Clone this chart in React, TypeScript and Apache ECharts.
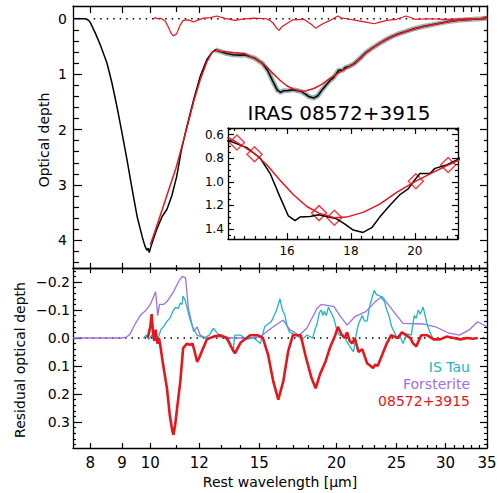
import React, { useEffect, useRef } from 'react';
import * as echarts from 'echarts';

// ---------- tick values ----------
const xMajorTicks = [8, 9, 10, 12, 15, 20, 25, 30, 35];
const xMinorTicks = [11, 13, 14, 16, 17, 18, 19, 21, 22, 23, 24, 26, 27, 28, 29, 31, 32, 33, 34];
const topYMajor = [0, 1, 2, 3, 4];
const topYMinor = [0.2, 0.4, 0.6, 0.8, 1.2, 1.4, 1.6, 1.8, 2.2, 2.4, 2.6, 2.8, 3.2, 3.4, 3.6, 3.8, 4.2, 4.4];
const resYMajor = [-0.2, -0.1, 0, 0.1, 0.2, 0.3];
const resYMinor = [-0.24, -0.22, -0.18, -0.16, -0.14, -0.12, -0.08, -0.06, -0.04, -0.02, 0.02, 0.04, 0.06, 0.08,
  0.12, 0.14, 0.16, 0.18, 0.22, 0.24, 0.26, 0.28, 0.32, 0.34, 0.36, 0.38];
const insetXMajor = [16, 18, 20];
const insetXMinor = [14.33, 14.67, 15, 15.33, 15.67, 16.33, 16.67, 17, 17.33, 17.67, 18.33, 18.67, 19, 19.33, 19.67,
  20.33, 20.67, 21, 21.33];
const insetYMajor = [0.6, 0.8, 1.0, 1.2, 1.4];
const insetYMinor = [0.55, 0.65, 0.7, 0.75, 0.85, 0.9, 0.95, 1.05, 1.1, 1.15, 1.25, 1.3, 1.35, 1.45];

// ---------- observed optical depth (black) ----------
const obsWl = [7.5, 7.8, 7.88, 7.95, 8.0, 8.15, 8.3, 8.51, 8.67, 8.83, 9.0, 9.17, 9.35, 9.52, 9.7, 9.8, 9.87, 9.92,
  9.96, 10.0, 10.1, 10.26, 10.45, 10.64, 10.83, 11.03, 11.23, 11.46, 11.75, 12.04, 12.34, 12.55, 12.73, 12.97, 13.3,
  13.6, 14.0, 14.17, 14.45, 14.74, 15.16, 15.47, 15.78, 16.04, 16.25, 16.4, 16.72, 16.98, 17.24, 17.55, 17.81, 18.07,
  18.38, 18.65, 18.9, 19.22, 19.53, 19.79, 19.95, 20.16, 20.47, 20.63, 20.99, 21.35, 21.8, 22.3, 22.9, 23.5, 24.1,
  24.6, 25.2, 25.9, 26.7, 27.6, 28.5, 29.4, 30.3, 31.2, 32.2, 33.2, 34.2, 35];
const obsTau = [0, 0, 0.005, 0.03, 0.07, 0.26, 0.47, 0.8, 1.16, 1.58, 2.06, 2.55, 3.09, 3.57, 3.93, 4.1, 4.18, 4.14,
  4.22, 4.15, 4.0, 3.78, 3.57, 3.44, 3.2, 2.85, 2.36, 1.94, 1.46, 1.04, 0.74, 0.62, 0.56, 0.59, 0.63,
  0.65, 0.66, 0.65, 0.68, 0.71, 0.8, 0.93, 1.13, 1.29, 1.33, 1.3, 1.295, 1.28, 1.295, 1.315, 1.36, 1.41,
  1.43, 1.39, 1.3, 1.2, 1.11, 1.06, 1.0, 0.93, 0.93, 0.886, 0.857, 0.81, 0.72, 0.61, 0.52, 0.44, 0.37,
  0.32, 0.27, 0.23, 0.18, 0.14, 0.11, 0.08, 0.05, 0.03, 0.02, 0.01, 0.0, -0.01];

// ---------- continuum / model fit (red) ----------
const modelWl = [10.0, 10.2, 10.45, 10.7, 11.0, 11.25, 11.5, 11.75, 12.04, 12.34, 12.6, 12.8, 13.0, 13.6, 14.17,
  14.43, 14.98, 15.37, 15.78, 16.2, 16.62, 17.0, 17.48, 17.86, 18.38, 18.9, 19.43, 20.03, 20.57, 21.04, 21.35,
  21.8, 22.3, 22.9, 23.5, 24.1, 24.6, 25.9, 27.6, 29.4, 31.2, 33.2, 35];
const modelTau = [4.08, 3.8, 3.45, 3.1, 2.7, 2.3, 1.9, 1.5, 1.1, 0.78, 0.6, 0.57, 0.585, 0.61, 0.628,
  0.666, 0.76, 0.857, 0.986, 1.11, 1.21, 1.266, 1.306, 1.3, 1.26, 1.19, 1.09, 0.995, 0.92, 0.857, 0.82,
  0.73, 0.62, 0.52, 0.44, 0.37, 0.32, 0.23, 0.14, 0.08, 0.03, 0.01, -0.01];

// ---------- anchor points (inset diamonds) ----------
const anchorWl = [14.43, 14.98, 17.0, 17.48, 20.03, 21.04];
const anchorTau = [0.666, 0.766, 1.266, 1.306, 0.995, 0.857];

// ---------- residual at top of upper panel (thin red) ----------
const resTopWl = [10.1, 10.18, 10.26, 10.38, 10.5, 10.58, 10.7, 10.8, 10.9, 11.03, 11.18, 11.3, 11.52, 11.75, 11.9,
  12.2, 12.5, 12.8, 13.15, 13.7, 14.0, 14.7, 15.4, 15.6, 15.8, 16.0, 16.15, 16.3, 16.6, 17.0, 17.7, 18.2, 18.5, 19.0,
  19.6, 20.1, 20.4, 20.8, 21.5, 22.3, 23.0, 23.5, 24.1, 25.0, 25.9, 26.8, 28.0, 30.1, 32.3, 34.2, 35];
const resTopTau = [0.01, -0.02, 0.0, -0.01, 0.02, 0.05, 0.16, 0.26, 0.31, 0.27, 0.11, 0.03, 0.02, 0.06, 0.03,
  -0.01, -0.02, -0.05, -0.01, 0.03, 0.01, -0.01, 0.0, 0.03, 0.08, 0.17, 0.21, 0.15, 0.09, 0.02, 0.01, 0.1, 0.17, 0.09,
  0.02, -0.05, -0.01, 0.0, 0.03, 0.06, 0.09, 0.06, 0.03, 0.01, -0.05, 0.01, 0.0, 0.01, 0.0, 0.0, -0.05];

// ---------- lower panel: Forsterite (purple) ----------
const forstWl = [7.5, 9.0, 9.15, 9.28, 9.45, 9.63, 9.85, 10.0, 10.2, 10.28, 10.35, 10.5, 10.64, 10.9, 11.1, 11.26,
  11.4, 11.52, 11.75, 11.9, 12.04, 12.3, 12.9, 13.6, 14.5, 15.06, 15.8, 16.4, 16.8, 17.4, 17.9, 18.6, 18.9, 19.8,
  20.3, 20.8, 21.4, 22.3, 23.1, 23.7, 24.5, 25.6, 27.6, 28.9, 30.4, 31.6, 32.8, 33.8, 35];
const forstRes = [0, 0, -0.003, -0.015, -0.05, -0.08, -0.1, -0.12, -0.165, -0.08, -0.12, -0.12, -0.13, -0.165, -0.2,
  -0.22, -0.215, -0.107, -0.023, -0.04, -0.01, 0, -0.005, 0, 0, -0.005, -0.04, -0.064, -0.03, -0.01, -0.035, -0.106,
  -0.12, -0.112, -0.076, -0.046, -0.076, -0.094, -0.13, -0.148, -0.106, -0.052, -0.05, -0.04, -0.017, -0.01, -0.03,
  -0.058, -0.04];

// ---------- lower panel: IS Tau (teal) ----------
const isTauWl = [9.75, 9.85, 9.95, 10.05, 10.15, 10.3, 10.4, 10.5, 10.64, 10.75, 10.9, 11.0, 11.1, 11.18, 11.25, 11.3,
  11.38, 11.46, 11.58, 11.7, 11.9, 12.2, 12.45, 12.65, 12.8, 13.0, 13.2, 13.45, 13.6, 13.7, 14.0, 14.3, 14.7, 15.06,
  15.3, 15.5, 15.7, 15.85, 16.0, 16.2, 16.35, 16.5, 16.65, 16.8, 17.2, 17.6, 17.9, 18.3, 18.45, 18.6, 18.75, 18.9,
  19.0, 19.1, 19.25, 19.4, 19.6, 19.8, 20.0, 20.2, 20.5, 20.75, 21.0, 21.3, 21.5, 21.7, 22.0, 22.2, 22.4, 22.6, 22.8,
  23.0, 23.2, 23.5, 23.7, 23.9, 24.1, 24.3, 24.55, 24.8, 25.05, 25.3, 25.6, 25.8, 26.0, 26.4, 26.7, 26.9, 27.1, 27.3,
  27.6, 27.8, 28.0, 28.3, 28.6];
const isTauRes = [0, -0.01, 0.005, -0.01, 0.01, 0, -0.03, -0.04, -0.06, -0.07, -0.1, -0.11, -0.105, -0.125, -0.12,
  -0.15, -0.135, -0.11, -0.07, -0.04, -0.01, 0, -0.01, -0.035, -0.02, -0.005, 0, 0.02, 0.05, -0.01, -0.01, 0.005, 0,
  0.02, -0.04, -0.05, -0.06, -0.08, -0.1, -0.14, -0.1, -0.08, -0.04, -0.02, -0.01, 0.005, -0.01, 0, -0.03, -0.05,
  -0.09, -0.1, -0.08, -0.095, -0.08, -0.11, -0.09, -0.07, -0.03, -0.01, -0.01, 0.01, 0.03, 0.05, -0.01, -0.05, -0.08,
  -0.06, -0.06, -0.11, -0.14, -0.17, -0.155, -0.15, -0.14, -0.13, -0.1, -0.08, -0.04, -0.02, 0, -0.01, 0.02, 0,
  -0.015, -0.01, -0.08, -0.07, -0.1, -0.085, -0.11, -0.08, -0.05, -0.02, 0];

// ---------- lower panel: 08572+3915 (thick red) ----------
const iras08Wl = [9.9, 9.95, 10.0, 10.05, 10.1, 10.15, 10.2, 10.27, 10.33, 10.4, 10.47, 10.55, 10.64, 10.75, 10.85,
  10.9, 10.97, 11.05, 11.18, 11.3, 11.46, 11.6, 11.7, 11.8, 11.9, 12.0, 12.1, 12.34, 12.65, 12.97, 13.3, 13.5, 13.7,
  13.85, 14.0, 14.5, 14.9, 15.2, 15.5, 15.8, 16.1, 16.4, 16.7, 17.0, 17.5, 17.8, 18.2, 18.5, 18.8, 19.2, 19.5, 19.9,
  20.1, 20.4, 20.6, 20.8, 21.0, 21.2, 21.4, 21.7, 22.0, 22.4, 22.7, 22.9, 23.1, 23.3, 23.7, 24.1, 24.5, 25.1, 25.5,
  25.9, 26.3, 26.6, 26.9, 27.4, 28.0, 28.7, 29.4, 30.1, 30.9, 31.7, 32.5, 33.2, 33.8];
const iras08Res = [0, -0.02, -0.04, -0.085, -0.02, 0.01, -0.03, 0.02, 0, 0.04, 0.085, 0.13, 0.18, 0.275, 0.33,
  0.346, 0.31, 0.25, 0.156, 0.036, 0.02, 0.025, 0.02, 0.05, 0.085, 0.07, 0.05, 0.005, -0.005, -0.01, 0, 0.03, 0.055,
  0.035, 0.016, -0.01, -0.01, 0, 0.06, 0.155, 0.22, 0.155, 0.048, -0.01, -0.01, 0.06, 0.14, 0.18, 0.13, 0.083, 0.036,
  -0.01, -0.04, -0.01, 0, -0.02, 0.01, 0.02, 0, 0.05, 0.04, 0.09, 0.1, 0.107, 0.095, 0.1, 0.06, 0.02, -0.01, 0, -0.02,
  -0.01, 0, 0.02, 0.03, -0.01, -0.01, 0.005, 0.005, -0.005, 0, 0.005, 0, 0.003, 0];

const zeroTopWl = [8.1, 35];
const zeroBotWl = [7.5, 35];
const zeroVal = [0, 0];

const legendNames = ['IS Tau', 'Forsterite', '08572+3915'];

const FONT = 'DejaVu Sans';
const RED = '#e5161c';
const TEAL = '#22b4c3';
const PURPLE = '#9d6fe4';
const GRAY = '#7f9797';

const zip = (xs: number[], ys: number[]) => xs.map((x, i) => [x, ys[i]]);

const labelStyle = { color: '#000', fontFamily: FONT, fontSize: 14 };

function logX(gridIndex: number, position: string, ticks: number[], len: number, labels?: any, showLine = true) {
  return {
    type: 'log', logBase: 10, min: 7.5, max: 35, gridIndex, position,
    axisLine: { show: showLine, onZero: false, lineStyle: { color: '#000', width: 1.3 } },
    axisTick: { show: true, inside: true, length: len, customValues: ticks, lineStyle: { color: '#000', width: 1.2 } },
    axisLabel: labels ? labels : { show: false },
    splitLine: { show: false },
  };
}

function linX(gridIndex: number, position: string, min: number, max: number, ticks: number[], len: number, labels?: any, showLine = true) {
  return {
    type: 'value', min, max, gridIndex, position,
    axisLine: { show: showLine, onZero: false, lineStyle: { color: '#000', width: 1.3 } },
    axisTick: { show: true, inside: true, length: len, customValues: ticks, lineStyle: { color: '#000', width: 1.2 } },
    axisLabel: labels ? labels : { show: false },
    splitLine: { show: false },
  };
}

function valY(gridIndex: number, position: string, min: number, max: number, ticks: number[], len: number, labels?: any, showLine = true) {
  return {
    type: 'value', inverse: true, min, max, gridIndex, position,
    axisLine: { show: showLine, onZero: false, lineStyle: { color: '#000', width: 1.3 } },
    axisTick: { show: true, inside: true, length: len, customValues: ticks, lineStyle: { color: '#000', width: 1.2 } },
    axisLabel: labels ? labels : { show: false },
    splitLine: { show: false },
  };
}

const fmt1 = (v: number) => {
  const s = Math.abs(v).toFixed(1);
  return v < -1e-9 ? '\u2212' + s : s;
};

export default function App() {
  const ref = useRef<HTMLDivElement>(null);
  useEffect(() => {
    if (!ref.current) return;
    const chart = echarts.init(ref.current, undefined, { renderer: 'svg' });
    const obs = zip(obsWl, obsTau);
    const model = zip(modelWl, modelTau);
    const line = (xi: number, yi: number, data: any[], color: string, width: number, extra: any = {}) => ({
      type: 'line', xAxisIndex: xi, yAxisIndex: yi, data, showSymbol: false, symbol: 'none',
      lineStyle: { color, width }, itemStyle: { color }, silent: true, ...extra,
    });
    const legendColors = [TEAL, PURPLE, RED];
    const legendY = [367, 384, 401];

    const option: any = {
      animation: false,
      backgroundColor: '#fff',
      grid: [
        { left: 73, top: 6, width: 414, height: 262, outerBoundsMode: 'none' },
        { left: 73, top: 268, width: 414, height: 180, outerBoundsMode: 'none' },
        { left: 228, top: 128, width: 230, height: 111, outerBoundsMode: 'none' },
      ],
      xAxis: [
        logX(0, 'bottom', xMajorTicks, 5),
        logX(0, 'bottom', xMinorTicks, 3, undefined, false),
        logX(0, 'top', xMajorTicks, 7),
        logX(0, 'top', xMinorTicks, 6, undefined, false),
        logX(1, 'bottom', xMajorTicks, 5, {
          show: true, customValues: xMajorTicks, formatter: (v: number) => String(Math.round(v)),
          margin: 7, ...labelStyle, fontSize: 15,
        }),
        logX(1, 'bottom', xMinorTicks, 3, undefined, false),
        logX(1, 'top', xMajorTicks, 5),
        logX(1, 'top', xMinorTicks, 3, undefined, false),
        linX(2, 'bottom', 14.15, 21.35, insetXMajor, 6, {
          show: true, customValues: insetXMajor, formatter: (v: number) => String(Math.round(v)),
          margin: 6, ...labelStyle, fontSize: 12,
        }),
        linX(2, 'bottom', 14.15, 21.35, insetXMinor, 3, undefined, false),
        linX(2, 'top', 14.15, 21.35, insetXMajor, 6),
        linX(2, 'top', 14.15, 21.35, insetXMinor, 3, undefined, false),
      ],
      yAxis: [
        valY(0, 'left', -0.23, 4.5, topYMajor, 9, {
          show: true, customValues: topYMajor, formatter: (v: number) => String(Math.round(v)),
          margin: 6, ...labelStyle,
        }),
        valY(0, 'left', -0.23, 4.5, topYMinor, 6, undefined, false),
        valY(0, 'right', -0.23, 4.5, topYMajor, 7),
        valY(0, 'right', -0.23, 4.5, topYMinor, 3, undefined, false),
        valY(1, 'left', -0.25, 0.393, resYMajor, 9, {
          show: true, customValues: resYMajor, formatter: fmt1, margin: 3, ...labelStyle,
        }),
        valY(1, 'left', -0.25, 0.393, resYMinor, 3, undefined, false),
        valY(1, 'right', -0.25, 0.393, resYMajor, 7),
        valY(1, 'right', -0.25, 0.393, resYMinor, 3, undefined, false),
        valY(2, 'left', 0.543, 1.486, insetYMajor, 6, {
          show: true, customValues: insetYMajor, formatter: (v: number) => v.toFixed(1), margin: 4, ...labelStyle,
          fontSize: 12,
        }),
        valY(2, 'left', 0.543, 1.486, insetYMinor, 3, undefined, false),
        valY(2, 'right', 0.543, 1.486, insetYMajor, 6),
        valY(2, 'right', 0.543, 1.486, insetYMinor, 3, undefined, false),
      ],
      series: [
        // upper panel
        line(0, 0, zip(zeroTopWl, zeroVal), '#000', 1.4, { lineStyle: { color: '#000', width: 1.4, type: [1.5, 5] } }),
        line(0, 0, obs.filter((p) => p[0] >= 12.6), GRAY, 5, { lineStyle: { color: GRAY, width: 5, opacity: 0.75 } }),
        line(0, 0, obs, '#000', 1.5),
        line(0, 0, model, RED, 1.5),
        line(0, 0, zip(resTopWl, resTopTau), RED, 1.2),
        // lower panel
        line(4, 4, zip(zeroBotWl, zeroVal), '#000', 1.4, { lineStyle: { color: '#000', width: 1.4, type: [1.5, 5] } }),
        line(4, 4, zip(forstWl, forstRes), PURPLE, 1.3),
        line(4, 4, zip(isTauWl, isTauRes), TEAL, 1.3),
        line(4, 4, zip(iras08Wl, iras08Res), RED, 2.6),
        // inset
        line(8, 8, obs, '#000', 1.5),
        line(8, 8, model, RED, 1.5),
        {
          type: 'scatter', xAxisIndex: 8, yAxisIndex: 8, data: zip(anchorWl, anchorTau), symbol: 'diamond',
          symbolSize: 15, silent: true,
          itemStyle: { color: 'rgba(0,0,0,0)', borderColor: RED, borderWidth: 1.5 },
        },
      ],
      graphic: [
        {
          type: 'text', x: 44, y: 140, rotation: Math.PI / 2,
          style: { text: 'Optical depth', fontSize: 14, fontFamily: FONT, fill: '#000', align: 'center', verticalAlign: 'middle' },
        },
        {
          type: 'text', x: 20, y: 360, rotation: Math.PI / 2,
          style: { text: 'Residual optical depth', fontSize: 14, fontFamily: FONT, fill: '#000', align: 'center', verticalAlign: 'middle' },
        },
        {
          type: 'text', x: 280, y: 482,
          style: { text: 'Rest wavelength [\u03bcm]', fontSize: 14, fontFamily: FONT, fill: '#000', align: 'center', verticalAlign: 'middle' },
        },
        {
          type: 'text', x: 339, y: 113,
          style: { text: 'IRAS 08572+3915', fontSize: 20, fontFamily: FONT, fill: '#000', align: 'center', verticalAlign: 'middle' },
        },
        ...legendNames.map((name, i) => ({
          type: 'text', x: 470, y: legendY[i],
          style: {
            text: name, fontSize: 14, lineHeight: 15, fontFamily: FONT, fill: legendColors[i],
            align: 'right', verticalAlign: 'middle',
          },
        })),
      ],
    };
    chart.setOption(option);
    return () => chart.dispose();
  }, []);
  return <div ref={ref} style={{ position: 'fixed', left: 0, top: 0, width: 497, height: 493 }} />;
}
